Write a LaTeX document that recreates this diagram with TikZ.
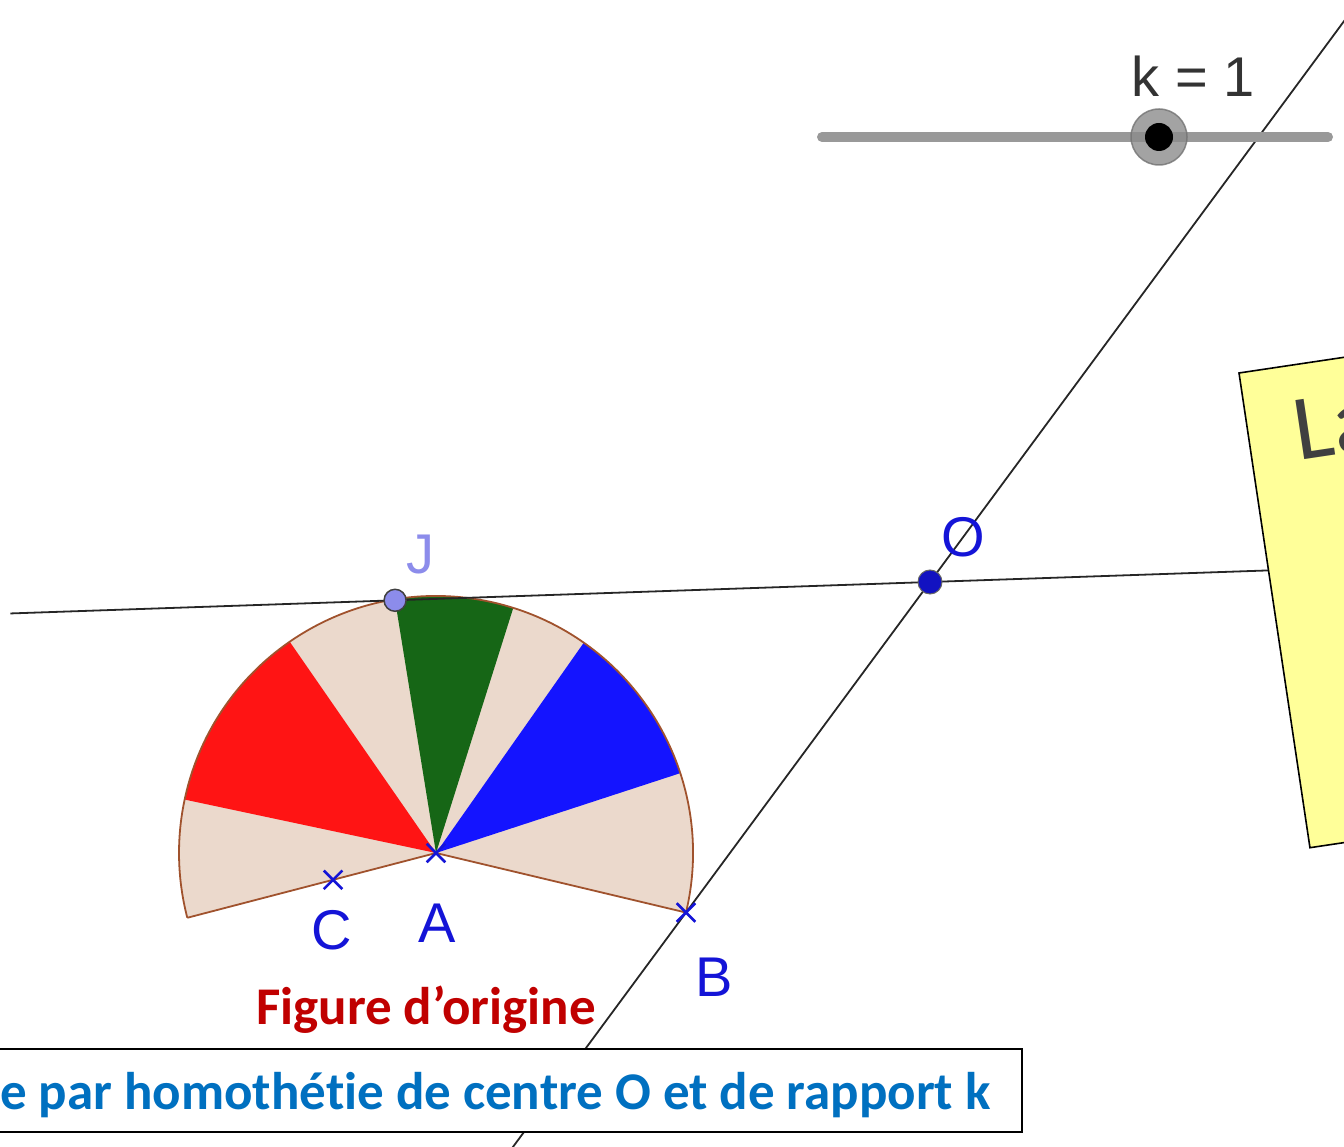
\documentclass[tikz,border=0pt]{standalone}
\usepackage{fontspec}
\newfontfamily\calibri[Ligatures=NoCommon]{Carlito}
\newfontfamily\ggbfont{Liberation Sans}
\usetikzlibrary{calc,shapes.misc}

\definecolor{beige}{RGB}{235,217,204}
\definecolor{arcbrown}{RGB}{160,82,45}
\definecolor{secred}{RGB}{255,20,20}
\definecolor{secgreen}{RGB}{22,102,22}
\definecolor{secblue}{RGB}{20,20,255}
\definecolor{ptblue}{RGB}{20,20,215}
\definecolor{jviolet}{RGB}{140,140,235}
\definecolor{titlered}{RGB}{192,0,0}
\definecolor{titleblue}{RGB}{0,112,192}
\definecolor{notebg}{RGB}{255,255,153}

\tikzset{
  droite/.style={black!85, line width=1.8pt},
  croix/.style={cross out, draw=ptblue, line width=2.6pt, minimum size=16pt, inner sep=0pt},
  etiq/.style={font=\ggbfont\fontsize{56}{60}\selectfont, inner sep=0pt},
}

\newcommand{\secteur}[3]{\fill[#1] (A) -- ($(A)+(#2:257)$) arc[start angle=#2, end angle=#3, radius=257] -- cycle;}

\begin{document}
\begin{tikzpicture}[x=1pt,y=1pt]
\useasboundingbox (0,0) rectangle (1344,1146);
\clip (0,0) rectangle (1344,1146);

% points
\coordinate (A) at (436,293);
\coordinate (B) at ($(A)+(-13.4:257)$);
\coordinate (L) at ($(A)+(194.6:257)$);
\coordinate (C) at ($(A)!0.414!(L)$);
\coordinate (J) at ($(A)+(99.2:256)$);
\coordinate (O) at (930,564);

% figure d'origine
\secteur{beige}{194.6}{-13.4}
\secteur{secred}{168}{124.7}
\secteur{secgreen}{99.2}{72.5}
\secteur{secblue}{54.9}{18.1}
\draw[arcbrown, line width=1.8pt] (L) -- (A) -- (B) arc[start angle=-13.4, end angle=194.6, radius=257];

% droites
\coordinate (Hg) at ($(J)!-0.719!(O)$);
\coordinate (Hd) at ($(J)!1.654!(O)$);
\coordinate (Sb) at ($(B)!-0.721!(O)$);
\coordinate (Sh) at ($(B)!2.773!(O)$);
\draw[droite] (Hg) -- (Hd);
\draw[droite] (Sb) -- (Sh);

% curseur
\coordinate (sg) at (822,1009);
\coordinate (sd) at (1328,1009);
\coordinate (knob) at (1159,1009);
\draw[line width=10pt, black!40, line cap=round] (sg) -- (sd);
\draw[fill=black!45, draw=black!55, line width=1.5pt, opacity=0.8] (knob) circle (28);
\fill[black] (knob) circle (14);
\node[etiq, text=black!80] (labk) at (1193,1070) {k = 1};

% points et noms
\node[croix] (xA) at (A) {};
\node[croix] (xB) at (B) {};
\node[croix] (xC) at (C) {};
\draw[fill=jviolet, draw=black!75, line width=1.5pt] (J) circle (11);
\draw[fill=ptblue!90!black, draw=black!60, line width=1pt] (O) circle (12);
\node[etiq, text=jviolet] (labJ) at (420,591) {J};
\node[etiq, text=ptblue] (labO) at (963,609) {O};
\node[etiq, text=ptblue] (labA) at (437,223) {A};
\node[etiq, text=ptblue] (labC) at (332,216) {C};
\node[etiq, text=ptblue] (labB) at (714,169) {B};

% textes
\node[font=\calibri\bfseries\fontsize{53}{56}\selectfont, text=titlered, inner sep=0pt, anchor=base] (titre) at (426,121) {Figure d’origine};
\node[draw, fill=white, line width=1.6pt, minimum width=1024, minimum height=83, anchor=south west, inner sep=0pt] (cadre) at (-3,13) {};
\node[font=\calibri\bfseries\fontsize{53}{58}\selectfont, text=titleblue, inner sep=0pt, anchor=base west] (legende) at (0,36) {e par homothétie de centre O et de rapport k};

% note
\begin{scope}[shift={(1239,773)}, rotate=8.5]
\draw[fill=notebg, line width=1.6pt] (0,0) rectangle (420,-480);
\node[anchor=base west, inner sep=0pt, rotate=8.5, font=\calibri\fontsize{93}{100}\selectfont, text=black!75] (note) at (46,-95) {La};
\end{scope}
\end{tikzpicture}
\end{document}
